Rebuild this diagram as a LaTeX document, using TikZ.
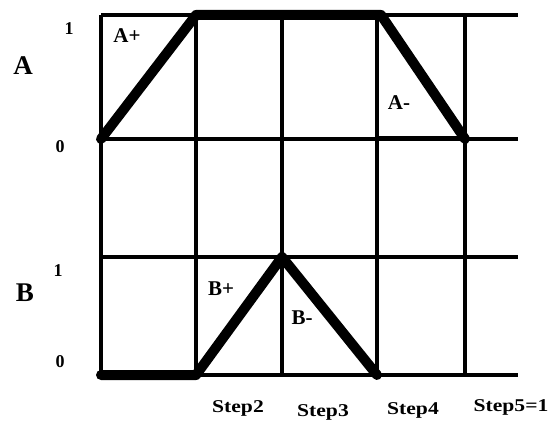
\documentclass[tikz,border=0pt]{standalone}
\usepackage{fontspec}
\setmainfont{Liberation Serif}
\begin{document}
\begin{tikzpicture}[x=1pt, y=-1pt,
  grid/.style={line width=3.5pt},
  signal/.style={line width=10pt, line cap=round, line join=round},
  axis/.style={font=\bfseries\fontsize{27}{29}\selectfont, inner sep=0pt},
  level/.style={font=\bfseries\fontsize{18}{20}\selectfont, inner sep=0pt},
  move/.style={font=\bfseries\fontsize{21}{23}\selectfont, inner sep=0pt},
  steplbl/.style={font=\bfseries\fontsize{18}{20}\selectfont, inner sep=0pt, xscale=1.2}]
\useasboundingbox (0,0) rectangle (554,425);

% Grid
\foreach \x in {101,196,282,377,465}
  \draw[grid] (\x,15) -- (\x,375);
\foreach \y in {15,139,257,375}
  \draw[grid] (101,\y) -- (518,\y);

% Cylinder A
\coordinate (a0) at (101,139);
\coordinate (a1) at (196,15);
\coordinate (a2) at (381,15);
\coordinate (a3) at (465,139);
\draw[signal] (a0) -- (a1) -- (a2) -- (a3);
\draw[line width=5pt] (377,139) -- (a3);

% Cylinder B
\coordinate (b0) at (101,375);
\coordinate (b1) at (196,375);
\coordinate (b2) at (282,257);
\coordinate (b3) at (377,375);
\draw[signal] (b0) -- (b1) -- (b2) -- (b3);

% Labels
\node[axis] (nA) at (23,66) {A};
\node[axis] (nB) at (25,293) {B};
\node[level] (a1lbl) at (69,29) {1};
\node[level] (a0lbl) at (60,147) {0};
\node[level] (b1lbl) at (58,271) {1};
\node[level] (b0lbl) at (60,362) {0};
\node[move] (ap) at (127,36) {A+};
\node[move] (am) at (399,103) {A-};
\node[move] (bp) at (221,289) {B+};
\node[move] (bm) at (302,318) {B-};

% Steps
\node[steplbl] (s2) at (238,408) {Step2};
\node[steplbl] (s3) at (323,412) {Step3};
\node[steplbl] (s4) at (413,410) {Step4};
\node[steplbl] (s5) at (511,407) {Step5=1};

\end{tikzpicture}
\end{document}
